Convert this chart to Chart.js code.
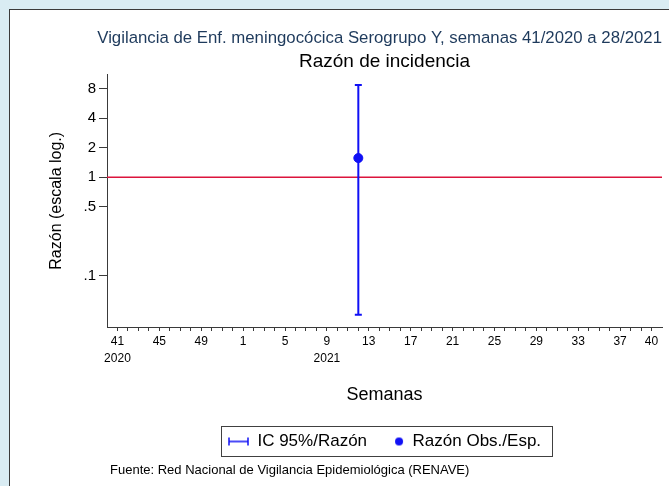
<!DOCTYPE html>
<html>
<head>
<meta charset="utf-8">
<script src="https://cdn.jsdelivr.net/npm/chart.js@4"></script>
<style>
  html, body { margin:0; padding:0; }
  body { width:669px; height:486px; background:#d9ecf3; position:relative; overflow:hidden;
         font-family:'Liberation Sans', Arial, sans-serif; }
  #panel { position:absolute; left:9px; top:9px; width:700px; height:500px; background:#fff;
           border-left:1px solid #3a3a3a; border-top:1px solid #3a3a3a; }
  #chart { position:absolute; left:0; top:0; }
  #fuente { position:absolute; left:110px; top:462px; font-size:13px; color:#000; white-space:nowrap; }
</style>
</head>
<body>
<div id="panel"></div>
<canvas id="chart" width="669" height="486"></canvas>
<div id="fuente">Fuente: Red Nacional de Vigilancia Epidemiológica (RENAVE)</div>
<script>
// epidemiological weeks on the x axis (41/2020 .. 40/2021)
const weeks = ['41','42','43','44','45','46','47','48','49','50','51','52',
               '1','2','3','4','5','6','7','8','9','10','11','12','13','14','15','16','17','18','19','20',
               '21','22','23','24','25','26','27','28','29','30','31','32','33','34','35','36','37','38','39','40'];
const labeledWeeks = ['41','45','49','1','5','9','13','17','21','25','29','33','37','40'];
const yearStart = { '41':'2020', '9':'2021' };

// observed / expected ratio with 95% CI
const obsWeeks = ['12'];
const ratio    = [1.57];
const ciLow    = [0.040];
const ciHigh   = [8.7];

const refLevel = 1;
const yTicks = [0.1, 0.5, 1, 2, 4, 8];
const yTickLabels = ['.1', '.5', '1', '2', '4', '8'];
const yMin = 0.030, yMax = 11.1;
const xMin = -1, xMax = 52;

const blue = '#1010f5';
const red = '#dc143c';
const axisCol = '#3a3a3a';
const font = "'Liberation Sans', Arial, sans-serif";

const errData = [];
obsWeeks.forEach((w, i) => {
  const x = weeks.indexOf(w);
  errData.push({x, y:ciLow[i]}, {x, y:ciHigh[i]}, {x, y:null});
});
const ptData = obsWeeks.map((w, i) => ({x:weeks.indexOf(w), y:ratio[i]}));

// legend symbols
function symCI() {
  const c = document.createElement('canvas'); c.width = 21; c.height = 10;
  const g = c.getContext('2d');
  g.strokeStyle = blue; g.lineWidth = 1.5;
  g.beginPath();
  g.moveTo(1, 5); g.lineTo(20, 5);
  g.moveTo(1, 1); g.lineTo(1, 9);
  g.moveTo(20, 1); g.lineTo(20, 9);
  g.stroke();
  return c;
}
function symDot() {
  const c = document.createElement('canvas'); c.width = 21; c.height = 10;
  const g = c.getContext('2d');
  g.fillStyle = blue;
  g.beginPath(); g.arc(16, 5, 4, 0, Math.PI * 2); g.fill();
  return c;
}

const legendFrame = {
  id: 'legendFrame',
  afterDraw(chart) {
    const hb = chart.legend.legendHitBoxes;
    if (!hb || !hb.length) return;
    const last = hb[hb.length - 1];
    const l = hb[0].left - 7, r = last.left + last.width + 11;
    const t = hb[0].top - 7, b = hb[0].top + hb[0].height + 6;
    const ctx = chart.ctx;
    ctx.save();
    ctx.strokeStyle = '#404040'; ctx.lineWidth = 1;
    ctx.strokeRect(Math.round(l) + 0.5, Math.round(t) + 0.5, Math.round(r - l), Math.round(b - t));
    ctx.restore();
  }
};

new Chart(document.getElementById('chart'), {
  type: 'scatter',
  data: {
    datasets: [
      { type:'scatter', label:'Razón Obs./Esp.', data:ptData, backgroundColor:blue, borderColor:blue,
        pointRadius:4.5, pointHoverRadius:4.5 },
      { type:'line', label:'IC 95%/Razón', data:errData, borderColor:blue, borderWidth:2, spanGaps:false,
        pointStyle:'line', pointRadius:3.5, pointBorderWidth:2, pointBorderColor:blue, pointHoverRadius:3.5 },
      { type:'line', label:'ref', data:[{x:xMin, y:refLevel}, {x:xMax, y:refLevel}], borderColor:red,
        borderWidth:1.5, pointRadius:0 }
    ]
  },
  options: {
    responsive: false,
    animation: false,
    layout: { padding: { left:10, right:7, top:10, bottom:26 } },
    plugins: {
      title: { display:true, fullSize:true, align:'end', text:'Vigilancia de Enf. meningocócica Serogrupo Y, semanas 41/2020 a 28/2021',
               color:'#1e3a5c', font:{ family:font, size:16.8, weight:'normal', lineHeight:1.2 },
               padding:{ top:18.6, bottom:0 } },
      subtitle: { display:true, fullSize:false, text:'Razón de incidencia', color:'#000',
                  font:{ family:font, size:19, weight:'normal', lineHeight:1.2 },
                  padding:{ top:1.4, bottom:1.6 } },
      legend: {
        display:true, position:'bottom', fullSize:false, onClick:null,
        labels: {
          usePointStyle:true, pointStyleWidth:21, padding:16, color:'#000',
          font:{ family:font, size:17 },
          generateLabels: () => [
            { text:'IC 95%/Razón', pointStyle:symCI(), fillStyle:blue, strokeStyle:blue, lineWidth:0, fontColor:'#000' },
            { text:'Razón Obs./Esp.', pointStyle:symDot(), fillStyle:blue, strokeStyle:blue, lineWidth:0, fontColor:'#000' }
          ]
        }
      },
      tooltip: { enabled:false }
    },
    scales: {
      x: {
        type:'linear', min:xMin, max:xMax,
        afterBuildTicks: s => { s.ticks = weeks.map((w, i) => ({ value:i })); },
        afterFit: s => { s.height = 90; },
        ticks: {
          autoSkip:false, maxRotation:0, padding:3, color:'#000',
          font:{ family:font, size:12, lineHeight:1.35 },
          callback: (v, i) => {
            const w = weeks[i];
            if (!labeledWeeks.includes(w)) return '';
            return yearStart[w] ? [w, yearStart[w]] : w;
          }
        },
        grid: { drawOnChartArea:false, tickLength:4, color:axisCol },
        border: { color:axisCol, width:1 },
        title: { display:true, text:'Semanas', color:'#000', font:{ family:font, size:18 }, padding:{ bottom:11 } }
      },
      y: {
        type:'logarithmic', min:yMin, max:yMax, bounds:'data',
        afterBuildTicks: s => { s.ticks = yTicks.map(v => ({ value:v })); },
        afterFit: s => { s.width = 97; },
        ticks: { padding:3, color:'#000', font:{ family:font, size:15 },
                 callback: (v, i) => yTickLabels[i] },
        grid: { drawOnChartArea:false, tickLength:8, color:axisCol },
        border: { color:axisCol, width:1 },
        title: { display:true, text:'Razón (escala log.)', color:'#000', font:{ family:font, size:16 },
                 padding:{ top:37 } }
      }
    }
  },
  plugins: [legendFrame]
});
</script>
</body>
</html>
